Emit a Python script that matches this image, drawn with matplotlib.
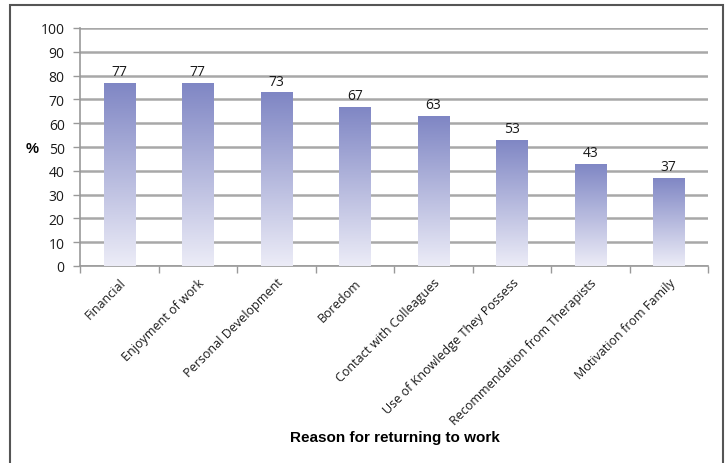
import matplotlib
matplotlib.use("Agg")
import matplotlib.pyplot as plt
import numpy as np
from matplotlib.colors import LinearSegmentedColormap
from matplotlib.patches import Rectangle

categories = ["Financial", "Enjoyment of work", "Personal Development", "Boredom",
              "Contact with Colleagues", "Use of Knowledge They Possess",
              "Recommendation from Therapists", "Motivation from Family"]
values = [77, 77, 73, 67, 63, 53, 43, 37]
yticks = [0, 10, 20, 30, 40, 50, 60, 70, 80, 90, 100]

W, H = 728, 464
fig = plt.figure(figsize=(W / 100, H / 100), dpi=100)
fig.patch.set_facecolor("white")
ax = fig.add_axes([80 / W, 1 - 267 / H, 628 / W, (267 - 29) / H])

cmap = LinearSegmentedColormap.from_list("g", ["#ececf7", "#7f86c4"])
x = np.arange(len(categories))
bw = 0.4
bars = ax.bar(x, values, width=bw, color="#ececf7", edgecolor="none", linewidth=0, zorder=2)
grad = np.linspace(0, 1, 256).reshape(-1, 1)
for b in bars:
    x0, y0 = b.get_x(), b.get_y()
    w, h = b.get_width(), b.get_height()
    im = ax.imshow(grad, cmap=cmap, origin="lower", aspect="auto",
                   extent=[x0, x0 + w, y0, y0 + h], zorder=3, vmin=0, vmax=1,
                   interpolation="bilinear")
    im.set_clip_path(b)
    ax.text(x0 + w / 2, y0 + h + 1.5, str(int(h)), ha="center", va="bottom",
            fontsize=10, color="#1a1a1a", family="Open Sans")

ax.set_xlim(-0.5, len(categories) - 0.5)
ax.set_ylim(0, 100)
ax.set_yticks(yticks)
ax.set_yticklabels([str(t) for t in yticks], fontsize=10, family="Open Sans", color="#1a1a1a")
ax.yaxis.grid(True, color="#a8a8a8", linewidth=1.8, zorder=0)
ax.set_axisbelow(True)
ax.set_xticks(np.arange(len(categories) + 1) - 0.5, minor=False)
ax.set_xticklabels([])
ax.tick_params(axis="x", length=5, color="#999999", width=1)
ax.tick_params(axis="y", length=5, color="#999999", width=1, pad=6)
ax.set_xticks(x, minor=True)
ax.set_xticklabels(categories, minor=True, rotation=45, ha="right", rotation_mode="anchor",
                   fontsize=9, family="Open Sans", color="#1a1a1a")
ax.tick_params(axis="x", which="minor", length=0, pad=7)
for s in ["top", "right"]:
    ax.spines[s].set_visible(False)
ax.spines["left"].set_color("#999999")
ax.spines["bottom"].set_color("#999999")
ax.spines["left"].set_linewidth(1.2)
ax.spines["bottom"].set_linewidth(1.2)

fig.text(32 / W, 1 - 149 / H, "%", fontsize=10.5, fontweight="bold", ha="center", va="center",
         family="Liberation Sans")
fig.text(395 / W, 1 - 438 / H, "Reason for returning to work", fontsize=11, fontweight="bold",
         ha="center", va="center", family="Liberation Sans")

border = Rectangle((10 / W, -0.05), (723 - 10) / W, 1 - 6 / H + 0.05, transform=fig.transFigure,
                   fill=False, edgecolor="#555555", linewidth=1.5)
fig.patches.append(border)

fig.savefig("out.png", dpi=100)
